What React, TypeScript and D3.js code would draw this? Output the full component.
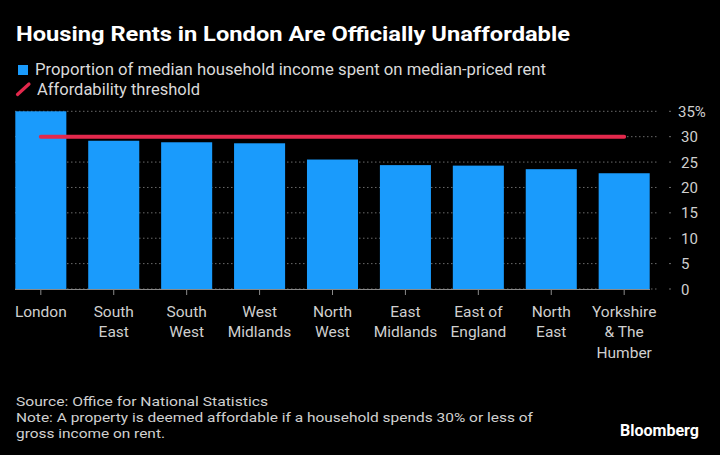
import { useEffect, useRef } from 'react'
import * as d3 from 'd3'

// regions, in chart order
const regions = [
  'London', 'South East', 'South West', 'West Midlands', 'North West',
  'East Midlands', 'East of England', 'North East', 'Yorkshire & The Humber',
]
const regionLabelLines = [
  ['London'], ['South', 'East'], ['South', 'West'], ['West', 'Midlands'], ['North', 'West'],
  ['East', 'Midlands'], ['East of', 'England'], ['North', 'East'], ['Yorkshire', '& The', 'Humber'],
]
// % of median household income spent on median-priced rent
const rentShare = [35.0, 29.2, 28.9, 28.7, 25.5, 24.4, 24.3, 23.6, 22.8]
const threshold = 30
const yTicks = [0, 5, 10, 15, 20, 25, 30, 35]

const footnotes = [
  'Source: Office for National Statistics',
  'Note: A property is deemed affordable if a household spends 30% or less of',
  'gross income on rent.',
]
const footnoteWidths = [252, 517, 149]

const BLUE = '#1a9bfc'
const RED = '#e3284c'
const FONT = 'Roboto, "Noto Sans", sans-serif'

export default function App() {
  const svgRef = useRef<SVGSVGElement>(null)

  useEffect(() => {
    document.body.style.margin = '0'
    document.body.style.background = '#000'
    if (!svgRef.current) return

    const svg = d3.select(svgRef.current)
    svg.selectAll('*').remove()
    svg.attr('width', 720).attr('height', 455).style('display', 'block').style('font-family', FONT)

    svg.append('rect').attr('width', 720).attr('height', 455).attr('fill', '#000')

    const x = d3.scaleBand<string>().domain(regions).range([15.3, 649.7]).paddingInner(0.3).paddingOuter(0)
    const y = d3.scaleLinear().domain([0, 35]).range([289, 111.3])

    // Title + legend
    svg.append('text').attr('x', 16).attr('y', 41).attr('fill', '#fff')
      .style('font-size', '20px').style('font-weight', 700)
      .attr('textLength', 554).attr('lengthAdjust', 'spacingAndGlyphs')
      .text('Housing Rents in London Are Officially Unaffordable')

    svg.append('rect').attr('x', 18).attr('y', 65).attr('width', 10).attr('height', 10).attr('fill', BLUE)
    svg.append('text').attr('x', 35).attr('y', 75).attr('fill', '#dadada').style('font-size', '17px')
      .attr('textLength', 511).attr('lengthAdjust', 'spacingAndGlyphs')
      .text('Proportion of median household income spent on median-priced rent')

    svg.append('line').attr('x1', 17.5).attr('y1', 94.5).attr('x2', 29).attr('y2', 84)
      .attr('stroke', RED).attr('stroke-width', 3.2).attr('stroke-linecap', 'round')
    svg.append('text').attr('x', 37).attr('y', 95).attr('fill', '#dadada').style('font-size', '17px')
      .attr('textLength', 163).attr('lengthAdjust', 'spacingAndGlyphs')
      .text('Affordability threshold')

    // Gridlines + right axis
    const grid = svg.append('g')
    yTicks.forEach(t => {
      grid.append('line').attr('x1', 15).attr('x2', 657).attr('y1', y(t)).attr('y2', y(t))
        .attr('stroke', '#6a6a6a').attr('stroke-width', 1).attr('stroke-dasharray', '1.5,2.5')
      grid.append('line').attr('x1', 669).attr('x2', 671).attr('y1', y(t)).attr('y2', y(t))
        .attr('stroke', '#6a6a6a').attr('stroke-width', 1)
      grid.append('text').attr('x', t === 35 ? 678 : 681).attr('y', y(t) + 5.5)
        .attr('fill', '#cfcfcf').style('font-size', '15px')
        .text(t === 35 ? '35%' : String(t))
    })

    // Bars
    svg.append('g').selectAll('rect').data(rentShare).enter().append('rect')
      .attr('x', (_, i) => x(regions[i]) as number)
      .attr('y', d => y(d))
      .attr('width', x.bandwidth())
      .attr('height', d => y(0) - y(d))
      .attr('fill', BLUE)

    // x axis baseline + ticks
    svg.append('line').attr('x1', 15).attr('x2', 650).attr('y1', 289.5).attr('y2', 289.5)
      .attr('stroke', '#8a8a8a').attr('stroke-width', 1)
    const xl = svg.append('g')
    regions.forEach((r, i) => {
      const cx = (x(r) as number) + x.bandwidth() / 2
      xl.append('line').attr('x1', cx).attr('x2', cx).attr('y1', 289).attr('y2', 295)
        .attr('stroke', '#8a8a8a').attr('stroke-width', 1)
      regionLabelLines[i].forEach((ln, j) => {
        xl.append('text').attr('x', cx).attr('y', 316.7 + j * 20.5).attr('text-anchor', 'middle')
          .attr('fill', '#cfcfcf').style('font-size', '15.5px').text(ln)
      })
    })

    // Affordability threshold line
    const first = (x(regions[0]) as number) + x.bandwidth() / 2
    const last = (x(regions[regions.length - 1]) as number) + x.bandwidth() / 2
    svg.append('line').attr('x1', first).attr('x2', last).attr('y1', y(threshold)).attr('y2', y(threshold))
      .attr('stroke', RED).attr('stroke-width', 4).attr('stroke-linecap', 'round')

    // Footer
    footnotes.forEach((f, i) => {
      svg.append('text').attr('x', 16).attr('y', 406 + i * 16).attr('fill', '#d0d0d0')
        .style('font-size', '13.5px')
        .attr('textLength', footnoteWidths[i]).attr('lengthAdjust', 'spacingAndGlyphs')
        .text(f)
    })
    svg.append('text').attr('x', 620).attr('y', 436).attr('fill', '#fff')
      .style('font-size', '16px').style('font-weight', 700)
      .attr('textLength', 79).attr('lengthAdjust', 'spacingAndGlyphs')
      .text('Bloomberg')
  }, [])

  return <svg ref={svgRef} />
}
